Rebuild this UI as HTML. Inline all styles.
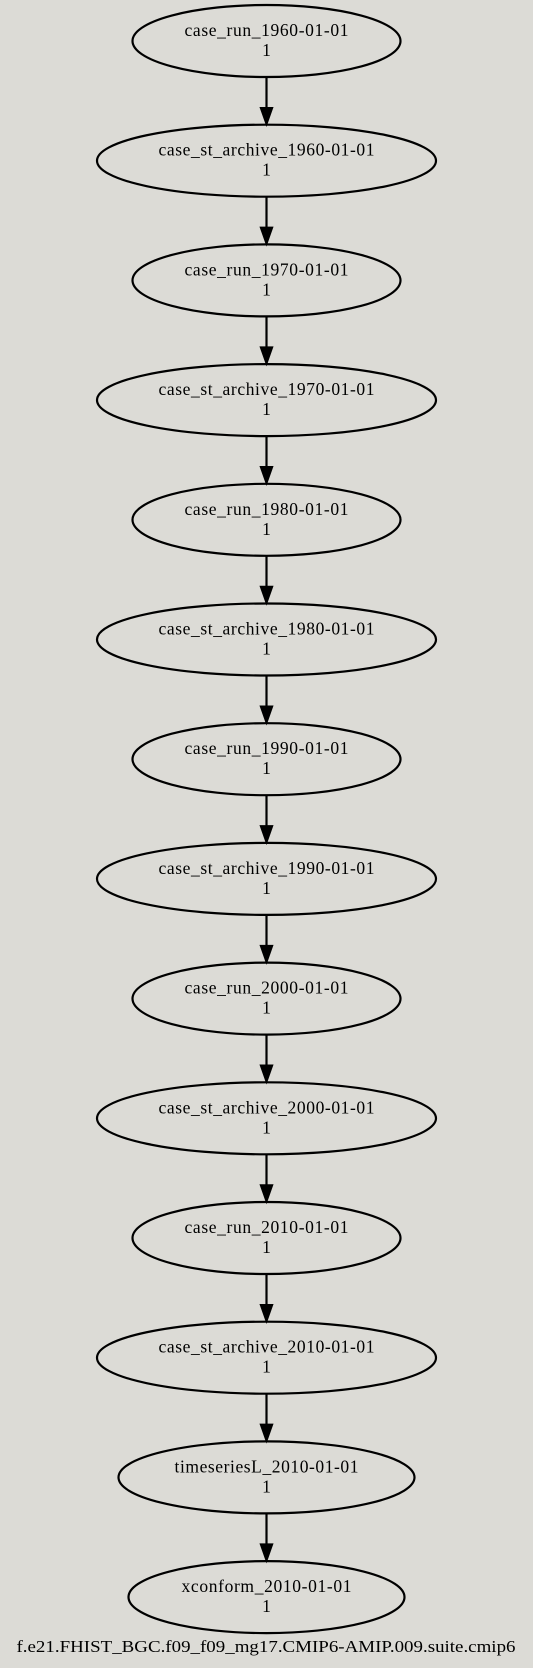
<!DOCTYPE html>
<html><head><style>html,body{margin:0;padding:0;background:#dcdbd6;}svg{display:block}</style></head>
<body>
<svg width="533" height="1668" xmlns="http://www.w3.org/2000/svg" font-family="Liberation Serif, serif" font-size="17.5">
<rect width="533" height="1668" fill="#dcdbd6"/>
<g fill="none" stroke="#000" stroke-width="2.2">
<ellipse cx="266.5" cy="41" rx="134" ry="36"/>
<ellipse cx="266.5" cy="160.7" rx="169.5" ry="36"/>
<ellipse cx="266.5" cy="280.4" rx="134" ry="36"/>
<ellipse cx="266.5" cy="400.1" rx="169.5" ry="36"/>
<ellipse cx="266.5" cy="519.8" rx="134" ry="36"/>
<ellipse cx="266.5" cy="639.5" rx="169.5" ry="36"/>
<ellipse cx="266.5" cy="759.2" rx="134" ry="36"/>
<ellipse cx="266.5" cy="878.9" rx="169.5" ry="36"/>
<ellipse cx="266.5" cy="998.6" rx="134" ry="36"/>
<ellipse cx="266.5" cy="1118.3" rx="169.5" ry="36"/>
<ellipse cx="266.5" cy="1238" rx="134" ry="36"/>
<ellipse cx="266.5" cy="1357.7" rx="169.5" ry="36"/>
<ellipse cx="266.5" cy="1477.4" rx="148" ry="36"/>
<ellipse cx="266.5" cy="1597.1" rx="138" ry="36"/>
<line x1="266.5" y1="77" x2="266.5" y2="114.7"/>
<line x1="266.5" y1="196.7" x2="266.5" y2="234.4"/>
<line x1="266.5" y1="316.4" x2="266.5" y2="354.1"/>
<line x1="266.5" y1="436.1" x2="266.5" y2="473.8"/>
<line x1="266.5" y1="555.8" x2="266.5" y2="593.5"/>
<line x1="266.5" y1="675.5" x2="266.5" y2="713.2"/>
<line x1="266.5" y1="795.2" x2="266.5" y2="832.9"/>
<line x1="266.5" y1="914.9" x2="266.5" y2="952.6"/>
<line x1="266.5" y1="1034.6" x2="266.5" y2="1072.3"/>
<line x1="266.5" y1="1154.3" x2="266.5" y2="1192"/>
<line x1="266.5" y1="1274" x2="266.5" y2="1311.7"/>
<line x1="266.5" y1="1393.7" x2="266.5" y2="1431.4"/>
<line x1="266.5" y1="1513.4" x2="266.5" y2="1551.1"/>
</g>
<g fill="#000" stroke="#000" stroke-width="1.5">
<polygon points="260.5,107.7 272.5,107.7 266.5,124.7"/>
<polygon points="260.5,227.4 272.5,227.4 266.5,244.4"/>
<polygon points="260.5,347.1 272.5,347.1 266.5,364.1"/>
<polygon points="260.5,466.8 272.5,466.8 266.5,483.8"/>
<polygon points="260.5,586.5 272.5,586.5 266.5,603.5"/>
<polygon points="260.5,706.2 272.5,706.2 266.5,723.2"/>
<polygon points="260.5,825.9 272.5,825.9 266.5,842.9"/>
<polygon points="260.5,945.6 272.5,945.6 266.5,962.6"/>
<polygon points="260.5,1065.3 272.5,1065.3 266.5,1082.3"/>
<polygon points="260.5,1185 272.5,1185 266.5,1202"/>
<polygon points="260.5,1304.7 272.5,1304.7 266.5,1321.7"/>
<polygon points="260.5,1424.4 272.5,1424.4 266.5,1441.4"/>
<polygon points="260.5,1544.1 272.5,1544.1 266.5,1561.1"/>
</g>
<g text-anchor="middle" fill="#000">
<text x="266.5" y="36" textLength="164">case_run_1960-01-01</text><text x="266.5" y="56">1</text>
<text x="266.5" y="155.7" textLength="216">case_st_archive_1960-01-01</text><text x="266.5" y="175.7">1</text>
<text x="266.5" y="275.4" textLength="164">case_run_1970-01-01</text><text x="266.5" y="295.4">1</text>
<text x="266.5" y="395.1" textLength="216">case_st_archive_1970-01-01</text><text x="266.5" y="415.1">1</text>
<text x="266.5" y="514.8" textLength="164">case_run_1980-01-01</text><text x="266.5" y="534.8">1</text>
<text x="266.5" y="634.5" textLength="216">case_st_archive_1980-01-01</text><text x="266.5" y="654.5">1</text>
<text x="266.5" y="754.2" textLength="164">case_run_1990-01-01</text><text x="266.5" y="774.2">1</text>
<text x="266.5" y="873.9" textLength="216">case_st_archive_1990-01-01</text><text x="266.5" y="893.9">1</text>
<text x="266.5" y="993.6" textLength="164">case_run_2000-01-01</text><text x="266.5" y="1013.6">1</text>
<text x="266.5" y="1113.3" textLength="216">case_st_archive_2000-01-01</text><text x="266.5" y="1133.3">1</text>
<text x="266.5" y="1233" textLength="164">case_run_2010-01-01</text><text x="266.5" y="1253">1</text>
<text x="266.5" y="1352.7" textLength="216">case_st_archive_2010-01-01</text><text x="266.5" y="1372.7">1</text>
<text x="266.5" y="1472.4" textLength="184">timeseriesL_2010-01-01</text><text x="266.5" y="1492.4">1</text>
<text x="266.5" y="1592.1" textLength="170">xconform_2010-01-01</text><text x="266.5" y="1612.1">1</text>
<text x="266" y="1652" font-size="16.5" textLength="499" lengthAdjust="spacingAndGlyphs">f.e21.FHIST_BGC.f09_f09_mg17.CMIP6-AMIP.009.suite.cmip6</text>
</g>
</svg>
</body></html>
